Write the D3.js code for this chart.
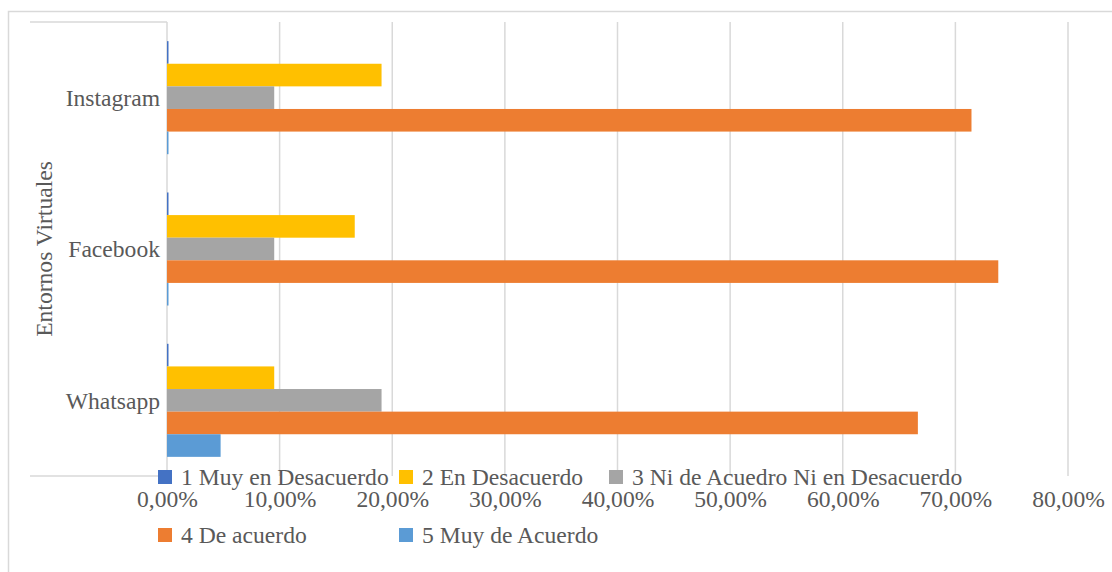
<!DOCTYPE html>
<html>
<head>
<meta charset="utf-8">
<script src="https://cdn.jsdelivr.net/npm/d3@7"></script>
<style>
  html, body { margin: 0; padding: 0; background: #fff; }
  svg { display: block; font-family: "Liberation Serif", "Times New Roman", serif; }
</style>
</head>
<body>
<div id="chart"></div>
<script>
// data
const categories = ["Instagram", "Facebook", "Whatsapp"];
const seriesNames = [
    "1 Muy en Desacuerdo",
    "2 En Desacuerdo",
    "3 Ni de Acuedro Ni en Desacuerdo",
    "4 De acuerdo",
    "5 Muy de Acuerdo"
];
const muyDesacuerdo = [0, 0, 0];
const desacuerdo = [0.1905, 0.1667, 0.0952];
const niAcuerdoNiDesacuerdo = [0.0952, 0.0952, 0.1905];
const deAcuerdo = [0.7143, 0.7381, 0.6667];
const muyDeAcuerdo = [0, 0, 0.0476];
const xTicks = [0, 0.1, 0.2, 0.3, 0.4, 0.5, 0.6, 0.7, 0.8];
const axisTitle = "Entornos Virtuales";

const seriesValues = [muyDesacuerdo, desacuerdo, niAcuerdoNiDesacuerdo, deAcuerdo, muyDeAcuerdo];
const colors = ["#4472C4", "#FFC000", "#A5A5A5", "#ED7D31", "#5B9BD5"];

const width = 1112, height = 572;
const plot = { left: 167, right: 1068, top: 22, bottom: 476 };
const textColor = "#595959";
const gridColor = "#d9d9d9";
const fontSize = 23.6;

const locale = d3.formatLocale({ decimal: ",", thousands: ".", grouping: [3], currency: ["", "€"] });
const pct = locale.format(".2%");

const svg = d3.select("#chart").append("svg")
    .attr("width", width)
    .attr("height", height);

// outer chart frame (cropped on the right and bottom)
svg.append("rect")
    .attr("x", 8.5).attr("y", 11.5)
    .attr("width", 1200).attr("height", 700)
    .attr("fill", "none")
    .attr("stroke", gridColor)
    .attr("stroke-width", 1.5);

const x = d3.scaleLinear().domain([0, 0.8]).range([plot.left, plot.right]);
const y = d3.scaleBand().domain(categories).range([plot.top, plot.bottom])
    .paddingInner(0.253).paddingOuter(0.1265);
const ySub = d3.scaleBand().domain(d3.range(seriesNames.length)).range([0, y.bandwidth()]);

// gridlines
svg.append("g").selectAll("line")
    .data(xTicks)
    .join("line")
    .attr("x1", d => x(d)).attr("x2", d => x(d))
    .attr("y1", plot.top).attr("y2", plot.bottom)
    .attr("stroke", gridColor)
    .attr("stroke-width", 1.5);

// category axis edge lines
svg.append("g").selectAll("line")
    .data(y.range())
    .join("line")
    .attr("x1", 30).attr("x2", plot.left)
    .attr("y1", d => d).attr("y2", d => d)
    .attr("stroke", gridColor)
    .attr("stroke-width", 1.5);

// bars
const rows = [];
categories.forEach((c, ci) => {
    seriesValues.forEach((vals, si) => {
        rows.push({ cat: c, s: si, v: vals[ci] });
    });
});

svg.append("g").selectAll("rect")
    .data(rows)
    .join("rect")
    .attr("x", x(0))
    .attr("y", d => y(d.cat) + ySub(d.s))
    .attr("width", d => Math.max(x(d.v) - x(0), 1.5))
    .attr("height", ySub.bandwidth())
    .attr("fill", d => colors[d.s]);

// x axis labels
const xAxis = svg.append("g")
    .attr("transform", `translate(0,${plot.bottom + 8})`)
    .call(d3.axisBottom(x).tickValues(xTicks).tickFormat(pct).tickSize(0).tickPadding(6));
xAxis.select(".domain").remove();
xAxis.selectAll("text")
    .attr("font-family", "Liberation Serif, Times New Roman, serif")
    .attr("font-size", fontSize)
    .attr("fill", textColor);

// category labels
svg.append("g").selectAll("text")
    .data(categories)
    .join("text")
    .attr("x", 160)
    .attr("y", d => y(d) + y.bandwidth() / 2)
    .attr("dy", "0.35em")
    .attr("text-anchor", "end")
    .attr("font-size", fontSize)
    .attr("fill", textColor)
    .text(d => d);

// axis title
svg.append("text")
    .attr("transform", "translate(52,249) rotate(-90)")
    .attr("text-anchor", "middle")
    .attr("font-size", fontSize)
    .attr("fill", textColor)
    .text(axisTitle);

// legend
const legendPos = [[158, 470], [399, 470], [609, 470], [158, 528], [399, 528]];
const legend = svg.append("g").selectAll("g")
    .data(seriesNames)
    .join("g")
    .attr("transform", (d, i) => `translate(${legendPos[i][0]},${legendPos[i][1]})`);
legend.append("rect")
    .attr("width", 14).attr("height", 14)
    .attr("fill", (d, i) => colors[i]);
legend.append("text")
    .attr("x", 23).attr("y", 15)
    .attr("font-size", fontSize)
    .attr("fill", textColor)
    .text(d => d);
</script>
</body>
</html>
